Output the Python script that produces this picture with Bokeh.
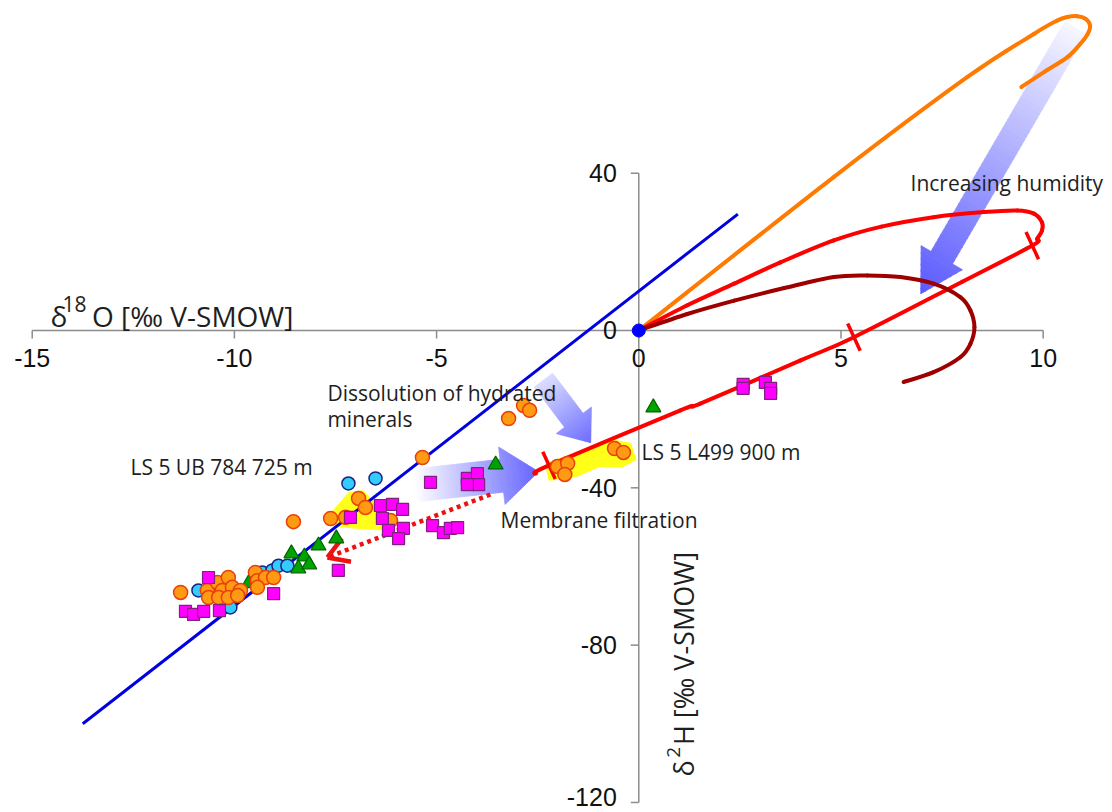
import math

from bokeh.plotting import figure
from bokeh.core.properties import value
from bokeh.embed import file_html
from bokeh.resources import INLINE

# ---------------------------------------------------------------------------
# Isotope data: x = δ18O, y = δ2H (‰ V-SMOW)
# ---------------------------------------------------------------------------
SQUARE_X = [-10.64, -9.03, -11.21, -11.01, -10.76, -10.37, -7.43, -7.13, -6.39,
            -6.09, -5.84, -6.34, -6.19, -5.82, -5.94, -5.15, -4.24, -3.99,
            -3.96, -4.24, -5.10, -4.83, -4.66, -4.48, 2.58, 2.58, 3.13, 3.26,
            3.26]
SQUARE_Y = [-62.8, -66.9, -71.4, -72.2, -71.4, -71.2, -61.0, -47.5, -44.5,
            -44.2, -45.5, -47.8, -50.8, -50.3, -52.9, -38.6, -37.6, -36.4,
            -39.2, -39.2, -49.6, -51.4, -50.3, -50.1, -13.7, -14.7, -13.2,
            -14.7, -16.0]

ORANGE_X = [-11.33, -10.67, -10.42, -10.15, -10.30, -10.05, -9.85, -10.64,
            -10.39, -10.15, -9.92, -9.48, -9.43, -9.23, -9.03, -9.43, -8.54,
            -7.62, -7.25, -6.93, -6.76, -6.14, -5.35, -3.22, -2.85, -2.70,
            -2.01, -1.76, -1.83, -0.60, -0.38]
ORANGE_Y = [-66.6, -66.1, -64.1, -62.8, -66.1, -65.3, -66.1, -67.9, -67.9,
            -67.9, -67.4, -61.5, -63.6, -62.8, -62.8, -65.3, -48.6, -47.8,
            -47.5, -42.7, -45.0, -48.3, -32.3, -22.4, -19.1, -20.3, -34.6,
            -33.8, -36.6, -30.0, -31.0]

CYAN_X = [-10.89, -10.27, -10.10, -9.31, -9.06, -8.91, -8.69, -7.18, -6.51]
CYAN_Y = [-66.1, -69.9, -70.4, -61.5, -61.0, -59.8, -59.8, -38.9, -37.6]

GREEN_X = [-9.65, -8.59, -8.27, -8.42, -8.15, -7.92, -7.48, -3.54, 0.36]
GREEN_Y = [-64.3, -56.7, -57.5, -60.5, -59.5, -54.7, -52.9, -34.1, -19.6]

# Global meteoric water line
GMWL_X = [-13.75, 2.45]
GMWL_Y = [-100.0, 29.6]

# Evaporation paths from the origin at three humidities
EVAP_LOW_X = [0, 4.82, 8.12, 9.77, 10.35, 10.60, 10.84, 11.05, 11.16, 11.10,
              10.92, 10.60, 10.02, 9.46]
EVAP_LOW_Y = [0, 39.0, 64.4, 75.4, 78.8, 79.7, 79.9, 79.2, 77.5, 75.4, 72.9,
              69.5, 65.7, 61.9]

EVAP_MID_X = [0, 1.2, 2.36, 3.5, 4.82, 6.0, 7.29, 8.53, 9.36, 9.77, 9.97,
              9.97, 9.85, 9.73, 8.0, 5.32, 4.0, 1.52, 1.03, -2.22, -2.55]
EVAP_MID_Y = [0, 6.4, 11.9, 17.3, 22.9, 26.4, 28.8, 30.1, 30.5, 29.7, 27.5,
              25.4, 23.3, 21.6, 12.4, -1.7, -7.6, -18.6, -20.3, -34.3, -36.4]

EVAP_HIGH_X = [0, 1.2, 2.36, 3.6, 4.82, 5.65, 6.47, 7.29, 7.95, 8.20, 8.30,
               8.20, 7.95, 7.29, 6.55]
EVAP_HIGH_Y = [0, 4.2, 7.6, 10.8, 13.6, 14.0, 13.6, 11.9, 8.5, 5.1, 0.8, -3.4,
               -6.8, -10.6, -13.1]

# Cross marks on the evaporation line
MARK_X = [-2.22, 5.32, 9.73]
MARK_Y = [-34.3, -1.7, 21.6]

# Highlighted sample groups
HILITE_L499_X = [-2.28, -1.21, -0.72, -0.22, -0.10, -0.40, -0.97, -1.53, -2.20]
HILITE_L499_Y = [-34.0, -30.2, -27.9, -28.9, -32.7, -34.3, -34.3, -36.8, -37.8]
HILITE_UB_X = [-7.62, -7.15, -6.83, -6.55, -6.10, -6.41, -6.98, -7.45]
HILITE_UB_Y = [-47.0, -41.4, -41.0, -44.2, -49.8, -50.4, -50.0, -49.6]

# Process arrows (tail, tip)
HUMIDITY_ARROW = [(10.80, 77.0), (6.97, 9.3)]
DISSOLUTION_ARROW = [(-2.36, -12.6), (-1.19, -28.5)]
MEMBRANE_ARROW = [(-5.55, -39.4), (-2.48, -35.9)]
DOTTED_ARROW = [(-3.67, -41.7), (-7.70, -57.7)]

# Axes
X_TICKS = [-15, -10, -5, 0, 5, 10]
X_TICK_LABELS = ["-15", "-10", "-5", "0", "5", "10"]
Y_TICKS = [40, 0, -40, -80, -120]
Y_TICK_LABELS = ["40", "0", "-40", "-80", "-120"]

# ---------------------------------------------------------------------------
W, H = 1112, 812
X_RANGE = (-15.784, 11.714)
Y_RANGE = (-122.55, 83.9)
PX_X = W / (X_RANGE[1] - X_RANGE[0])   # pixels per δ18O unit
PX_Y = H / (Y_RANGE[1] - Y_RANGE[0])   # pixels per δ2H unit


def dx(px):
    return px / PX_X


def dy(px):
    return px / PX_Y


def hex_rgb(h):
    return tuple(int(h[i:i + 2], 16) for i in (1, 3, 5))


def mix(c0, c1, t):
    a, b = hex_rgb(c0), hex_rgb(c1)
    return "#%02x%02x%02x" % tuple(round(a[k] + (b[k] - a[k]) * t) for k in range(3))


def gradient_arrow(p, tail, tip, shaft_w, head_w, head_len, c0, c1, n=60):
    """Block arrow whose fill fades from c0 at the tail to c1 at the head."""
    tx, ty = tail[0] * PX_X, tail[1] * PX_Y
    hx, hy = tip[0] * PX_X, tip[1] * PX_Y
    L = math.hypot(hx - tx, hy - ty)
    ux, uy = (hx - tx) / L, (hy - ty) / L
    nx, ny = -uy, ux
    base = L - head_len
    cuts = sorted(set([L * i / n for i in range(n + 1)] + [base]))
    xs, ys, cols = [], [], []
    for a, b in zip(cuts[:-1], cuts[1:]):
        in_head = a >= base - 1e-9
        b2 = min(b + 0.8, L)

        def hw(s):
            return head_w / 2 * (L - s) / head_len if in_head else shaft_w / 2

        wa, wb = hw(a), hw(b2)
        pts = [(a, wa), (b2, wb), (b2, -wb), (a, -wa)]
        xs.append([(tx + ux * s + nx * w) / PX_X for s, w in pts])
        ys.append([(ty + uy * s + ny * w) / PX_Y for s, w in pts])
        cols.append(mix(c0, c1, (a + b) / 2 / L))
    p.patches(xs, ys, fill_color=cols, line_color=cols, line_width=0.6)


def smooth_curve(p, xs, ys, **kw):
    """Draw a path through the points as Catmull-Rom cubic Bezier pieces."""
    n = len(xs)
    seg = dict(x0=[], y0=[], x1=[], y1=[], cx0=[], cy0=[], cx1=[], cy1=[])
    for i in range(n - 1):
        a = max(i - 1, 0)
        d = min(i + 2, n - 1)
        seg["x0"].append(xs[i])
        seg["y0"].append(ys[i])
        seg["x1"].append(xs[i + 1])
        seg["y1"].append(ys[i + 1])
        seg["cx0"].append(xs[i] + (xs[i + 1] - xs[a]) / 6)
        seg["cy0"].append(ys[i] + (ys[i + 1] - ys[a]) / 6)
        seg["cx1"].append(xs[i + 1] - (xs[d] - xs[i]) / 6)
        seg["cy1"].append(ys[i + 1] - (ys[d] - ys[i]) / 6)
    p.bezier(**seg, line_cap="round", **kw)


p = figure(width=W, height=H, x_range=X_RANGE, y_range=Y_RANGE,
           x_axis_type=None, y_axis_type=None, output_backend="svg",
           toolbar_location=None, min_border=0, outline_line_color=None,
           background_fill_color="white", border_fill_color="white")

# highlighted groups
p.patch(HILITE_L499_X, HILITE_L499_Y, fill_color="#ffff1a", line_color="#ffff1a",
        line_width=3, line_join="round")
p.patch(HILITE_UB_X, HILITE_UB_Y, fill_color="#ffff1a", line_color="#ffff1a",
        line_width=3, line_join="round")

# axes drawn through the origin
AX = "#8c8c8c"
p.line([X_TICKS[0], X_TICKS[-1]], [0, 0], line_color=AX, line_width=1.5)
p.line([0, 0], [Y_TICKS[0], Y_TICKS[-1]], line_color=AX, line_width=1.5)
p.segment(x0=X_TICKS, y0=[0] * len(X_TICKS), x1=X_TICKS,
          y1=[-dy(8)] * len(X_TICKS), line_color=AX, line_width=1.5)
p.segment(x0=[0] * len(Y_TICKS), y0=Y_TICKS, x1=[-dx(8)] * len(Y_TICKS),
          y1=Y_TICKS, line_color=AX, line_width=1.5)
p.text(x=X_TICKS, y=[-dy(28)] * len(X_TICKS), text=X_TICK_LABELS,
       text_font=value("Liberation Sans"), text_font_size=value("25px"),
       text_align="center", text_baseline="middle", text_color="#111111")
# the lowest label is kept clear of the bottom edge
y_label_pos = [t + (dy(5) if t == min(Y_TICKS) else 0) for t in Y_TICKS]
p.text(x=[-dx(22)] * len(Y_TICKS), y=y_label_pos, text=Y_TICK_LABELS,
       text_font=value("Liberation Sans"), text_font_size=value("25px"),
       text_align="right", text_baseline="middle", text_color="#111111")

# process arrows
gradient_arrow(p, *HUMIDITY_ARROW, shaft_w=25, head_w=48, head_len=42,
               c0="#f7f7ff", c1="#5a5aff")
gradient_arrow(p, *DISSOLUTION_ARROW, shaft_w=23, head_w=44, head_len=28,
               c0="#dcdfff", c1="#6d6dff")
gradient_arrow(p, *MEMBRANE_ARROW, shaft_w=33, head_w=58, head_len=37,
               c0="#ffffff", c1="#6464ff")

# water lines
p.line(GMWL_X, GMWL_Y, line_color="#0000e0", line_width=3)
smooth_curve(p, EVAP_LOW_X, EVAP_LOW_Y, line_color="#ff7a00", line_width=4)
smooth_curve(p, EVAP_MID_X, EVAP_MID_Y, line_color="#ff0000", line_width=4)
smooth_curve(p, EVAP_HIGH_X, EVAP_HIGH_Y, line_color="#9e0000", line_width=4)

# cross marks perpendicular to the evaporation line
lx = (EVAP_MID_X[13] - EVAP_MID_X[-1]) * PX_X
ly = (EVAP_MID_Y[13] - EVAP_MID_Y[-1]) * PX_Y
ll = math.hypot(lx, ly)
px_, py_ = -ly / ll * 15, lx / ll * 15
p.segment(x0=[x - dx(px_) for x in MARK_X], y0=[y - dy(py_) for y in MARK_Y],
          x1=[x + dx(px_) for x in MARK_X], y1=[y + dy(py_) for y in MARK_Y],
          line_color="#ff0000", line_width=3.5)

# dotted arrow (membrane filtration trend)
(sx0, sy0), (sx1, sy1) = DOTTED_ARROW
p.line([sx0, sx1], [sy0, sy1], line_color="#ee1111", line_width=4.5,
       line_dash="4 4")
vx, vy = (sx0 - sx1) * PX_X, (sy0 - sy1) * PX_Y
vl = math.hypot(vx, vy)
vx, vy = vx / vl, vy / vl
heads_x, heads_y = [], []
for ang in (0.55, -0.55):
    cx = vx * math.cos(ang) - vy * math.sin(ang)
    cy = vx * math.sin(ang) + vy * math.cos(ang)
    heads_x.append([sx1 + dx(cx * 24), sx1])
    heads_y.append([sy1 + dy(cy * 24), sy1])
p.multi_line(heads_x, heads_y, line_color="#ee1111", line_width=4.5)

# samples
p.scatter(CYAN_X, CYAN_Y, marker="circle", size=13, fill_color="#33ccff",
          line_color="#1a237e", line_width=1.5)
p.scatter(GREEN_X, GREEN_Y, marker="triangle", size=15, fill_color="#00a300",
          line_color="#006400", line_width=1.2)
p.scatter(ORANGE_X, ORANGE_Y, marker="circle", size=14, fill_color="#ff9a12",
          line_color="#e8400c", line_width=1.5)
p.scatter(SQUARE_X, SQUARE_Y, marker="square", size=12, fill_color="#ff00ff",
          line_color="#80207f", line_width=1.2)

# origin (V-SMOW)
p.scatter([0], [0], marker="circle", size=13, fill_color="#0000ff",
          line_color="#0000ff")

# annotations
ANN = dict(text_font=value("Open Sans"), text_font_size=value("21px"),
           text_align="left", text_baseline="middle", text_color="#1e1e1e")
p.text(x=[6.72], y=[37.4], text=["Increasing humidity"], **ANN)
p.text(x=[-7.70, -7.70], y=[-15.8, -22.6],
       text=["Dissolution of hydrated", "minerals"], **ANN)
p.text(x=[-12.57], y=[-34.8], text=["LS 5 UB 784 725 m"], **ANN)
p.text(x=[-3.42], y=[-48.3], text=["Membrane filtration"], **ANN)
p.text(x=[0.07], y=[-31.0], text=["LS 5 L499 900 m"], **ANN)

# axis titles
TT = dict(text_font=value("Open Sans"), text_align="left",
          text_baseline="alphabetic", text_color="#1e1e1e")
p.text(x=[-14.55], y=[3.81], text=["δ"], text_font_size=value("28px"), **TT)
p.text(x=[-14.25], y=[6.86], text=["18"], text_font_size=value("21px"), **TT)
p.text(x=[-13.52], y=[3.81], text=["O [‰ V-SMOW]"],
       text_font_size=value("28px"), **TT)

p.text(x=[1.105], y=[-113.4], text=["δ"], angle=math.pi / 2,
       text_font_size=value("27px"), **TT)
p.text(x=[0.85], y=[-108.6], text=["2"], angle=math.pi / 2,
       text_font_size=value("19px"), **TT)
p.text(x=[1.105], y=[-105.4], text=["H [‰ V-SMOW]"], angle=math.pi / 2,
       text_font_size=value("27px"), **TT)

with open("out.html", "w") as f:
    f.write(file_html(p, INLINE))
